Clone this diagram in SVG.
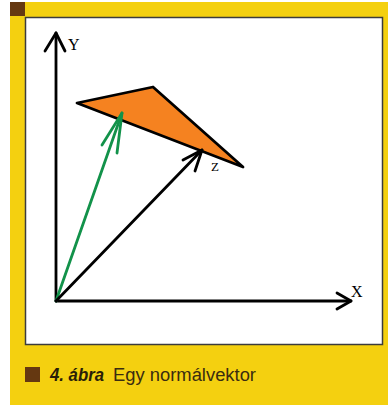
<svg xmlns="http://www.w3.org/2000/svg" width="388" height="405" viewBox="0 0 388 405">
<style>
.ax{stroke:#000;stroke-width:2.8;fill:none;stroke-linecap:round;stroke-linejoin:round}
.gr{stroke:#12924a;stroke-width:2.8;fill:none;stroke-linecap:round;stroke-linejoin:round}
.lbl{font-family:"Liberation Serif",serif;fill:#000}
</style>
<rect x="0" y="0" width="388" height="405" fill="#fff"/>
<rect x="10" y="2" width="378" height="403" fill="#f4d010"/>
<rect x="10" y="2" width="15" height="14" fill="#653811"/>
<rect x="25.5" y="17.5" width="357" height="327" fill="#fff" stroke="#3c3c3c" stroke-width="1.5"/>
<g id="triangle">
<polygon points="77,103 153,87 243,167" fill="#f58220" stroke="#000" stroke-width="2.8" stroke-linejoin="round"/>
</g>
<g id="connectors">
<g id="y-axis"><line class="ax" x1="56" y1="301" x2="56" y2="33"/><polyline class="ax" points="45,51 56,33 65,51"/></g>
<g id="x-axis"><line class="ax" x1="56" y1="301" x2="351" y2="301"/><polyline class="ax" points="337,293 351,301 337,309"/></g>
<g id="normal"><line class="gr" x1="56" y1="301" x2="122" y2="113"/><polyline class="gr" points="102,145 122,113 117,153"/></g>
<g id="z-axis"><line class="ax" x1="56" y1="301" x2="202" y2="150"/><polyline class="ax" points="183,160 202,150 195,171"/></g>
</g>
<g id="labels">
<text class="lbl" x="68" y="50" font-size="16">Y</text>
<text class="lbl" x="351" y="297" font-size="16">X</text>
<text class="lbl" x="211" y="171" font-size="13">Z</text>
</g>
<g id="caption">
<rect x="25" y="367" width="15" height="15" fill="#653811"/>
<text x="50" y="381" font-family="'Liberation Sans',sans-serif" font-size="18" font-weight="bold" font-style="italic" fill="#2a1e08" textLength="54" lengthAdjust="spacingAndGlyphs">4. ábra</text>
<text x="113" y="381" font-family="'Liberation Sans',sans-serif" font-size="18" fill="#3a2c10" textLength="143" lengthAdjust="spacingAndGlyphs">Egy normálvektor</text>
</g>
</svg>
